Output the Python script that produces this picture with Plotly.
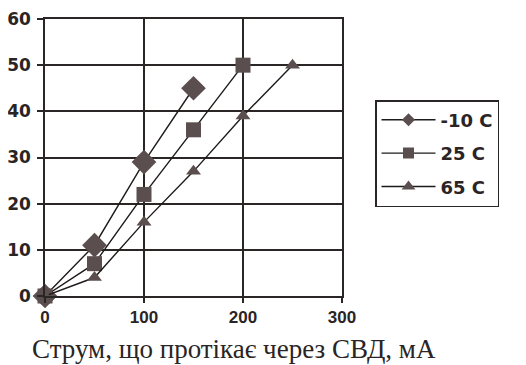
import plotly.graph_objects as go

current = [0, 50, 100, 150, 200, 250]
series_names = ["-10 C", "25 C", "65 C"]
v_m10 = [0, 11, 29, 45]
v_25 = [0, 7, 22, 36, 50]
v_65 = [0, 4, 16, 27, 39, 50]
x_ticks = [0, 100, 200, 300]
y_ticks = [0, 10, 20, 30, 40, 50, 60]
x_title = "Струм, що протікає через СВД, мА"

mcol = "#5a4f4e"
lcol = "#1e1a1a"
gcol = "#2b2626"
tcol = "#2a2424"

# page body has an 8px margin, so the figure is drawn 8px smaller
W, H = 518, 357

fig = go.Figure()
specs = [
    (series_names[0], v_m10, "diamond", 19, 10),
    (series_names[1], v_25, "square", 15, 11),
    (series_names[2], v_65, "triangle-up", 13, 12),
]
# data traces
for i, (name, vals, sym, sz, lsz) in enumerate(specs):
    fig.add_trace(go.Scatter(
        x=current[:len(vals)], y=vals, name=name, mode="lines+markers",
        showlegend=False,
        line=dict(color=lcol, width=1.4),
        marker=dict(symbol=sym, size=sz, color=mcol, line=dict(width=0)),
        cliponaxis=False,
    ))
# legend entries (smaller markers, as in the reference legend)
for i, (name, vals, sym, sz, lsz) in enumerate(specs):
    fig.add_trace(go.Scatter(
        x=[None], y=[None], name=name, mode="lines+markers",
        legendgroup=f"g{i}",
        line=dict(color=lcol, width=1.4),
        marker=dict(symbol=sym, size=lsz, color=mcol, line=dict(width=0)),
    ))

fig.update_layout(
    width=W, height=H,
    margin=dict(l=37, r=184, t=11, b=69, autoexpand=False),
    paper_bgcolor="white", plot_bgcolor="white",
    showlegend=True,
    legend=dict(
        xref="container", yref="container",
        x=367 / W, y=1 - 92 / H, xanchor="left", yanchor="top",
        bordercolor=gcol, borderwidth=1.5, bgcolor="white",
        font=dict(family="DejaVu Sans, sans-serif", size=18, color=tcol, weight="bold"),
        tracegroupgap=7, itemwidth=54,
    ),
    xaxis=dict(
        range=[0, 300], tickvals=x_ticks, showgrid=True, gridcolor=gcol, gridwidth=1.5,
        showline=True, linecolor=gcol, linewidth=1.5, mirror=True,
        ticks="outside", ticklen=5, tickcolor=gcol, tickwidth=1.5,
        tickfont=dict(family="Liberation Sans, Arial, sans-serif", size=17, color=tcol, weight="bold"),
        zeroline=False, automargin=False, ticklabeloverflow="allow",
    ),
    yaxis=dict(
        range=[0, 60], tickvals=y_ticks, showgrid=True, gridcolor=gcol, gridwidth=1.5,
        showline=True, linecolor=gcol, linewidth=1.5, mirror=True,
        ticks="outside", ticklen=6, tickcolor=gcol, tickwidth=1.5,
        tickfont=dict(family="DejaVu Sans, sans-serif", size=17, color=tcol, weight="bold"),
        zeroline=False, automargin=False, ticklabelstandoff=3, ticklabeloverflow="allow",
    ),
    annotations=[dict(
        text=x_title, xref="paper", yref="paper", x=0.638, y=-0.19,
        xanchor="center", yanchor="middle", showarrow=False,
        font=dict(family="Liberation Serif, Times New Roman, serif", size=27, color=tcol),
    )],
)
fig.write_html("out.html")
